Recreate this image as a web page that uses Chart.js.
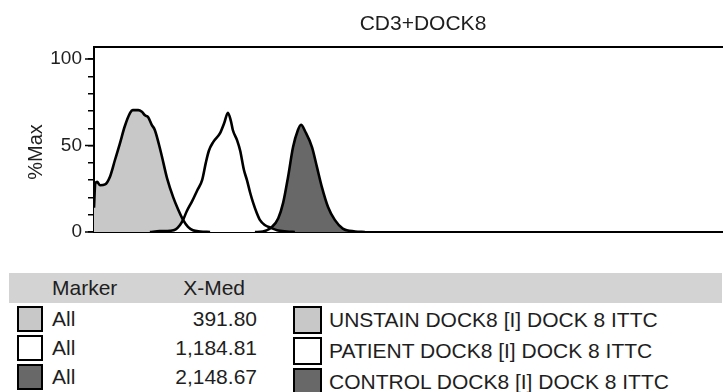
<!DOCTYPE html>
<html>
<head>
    <title>CD3+DOCK8</title>
    <script src="https://cdn.jsdelivr.net/npm/chart.js"></script>
    <style>
        body {
            font-family: "Liberation Sans", Arial, sans-serif;
            margin: 0;
            width: 723px;
            height: 392px;
            overflow: hidden;
            position: relative;
            background: #fff;
            color: #1e1e1e;
        }
        .abs { position: absolute; white-space: nowrap; }
        .txt { height: 30px; line-height: 30px; font-size: 21px; }
        #title { left: 423px; top: 8px; transform: translateX(-50%); }
        #ylabel { left: 35px; top: 152px; font-size: 20px; line-height: 20px;
                  transform: translate(-50%, -50%) rotate(-90deg); }
        #header { left: 9px; top: 273px; width: 713px; height: 30px; background: #d3d3d3; }
        .swatch { box-sizing: border-box; border: 2px solid #000; }
    </style>
</head>
<body>
    <canvas id="histChart" width="723" height="250" class="abs" style="left:0;top:0"></canvas>
    <div id="title" class="abs txt">CD3+DOCK8</div>
    <div id="ylabel" class="abs">%Max</div>
    <div id="header" class="abs"></div>
    <div class="abs txt" style="left:52px;top:273px">Marker</div>
    <div class="abs txt" style="left:145px;top:273px;width:100px;text-align:right">X-Med</div>
    <div id="table"></div>

    <script>
        // channel positions (0-1024) and %Max values
        const unstainX = [0, 2, 5, 10, 18, 26, 34, 42, 50, 59, 63, 72, 78, 83, 88, 94, 99, 109, 119, 129, 137, 145, 153, 161, 173, 189];
        const unstainY = [14, 28, 29, 27, 27.5, 32, 41.5, 51, 61, 69, 70.5, 70.5, 69.5, 67.5, 66.5, 62, 59, 46, 31, 20, 13, 7, 3, 1, 0.3, 0];
        const patientX = [91, 107, 124, 133, 140, 145, 151, 160, 168, 176, 182, 187, 194, 205, 212, 218, 223, 226, 233, 238, 244, 249, 254, 259, 265, 270, 278, 287, 298, 314, 327];
        const patientY = [0, 0.5, 0.7, 1.5, 4, 7, 12, 18, 24, 30, 40, 47, 52, 57, 63, 69, 64, 59, 53, 47, 36, 30, 23, 17, 11, 7, 4, 2.5, 1, 0.3, 0];
        const controlX = [262, 275, 290, 300, 308, 316, 324, 332, 337, 344, 355, 363, 371, 381, 392, 405, 425, 441];
        const controlY = [0, 0.3, 3, 8, 17, 32, 49, 59, 62, 58, 49, 37.5, 26, 14.5, 7, 2, 0.3, 0];

        const markerNames = ['All', 'All', 'All'];
        const xMedians = ['391.80', '1,184.81', '2,148.67'];
        const sampleNames = ['UNSTAIN DOCK8 [I] DOCK 8 ITTC', 'PATIENT DOCK8 [I] DOCK 8 ITTC', 'CONTROL DOCK8 [I] DOCK 8 ITTC'];
        const sampleFills = ['#c8c8c8', '#ffffff', '#686868'];
        const majorTicks = [0, 50, 100];

        const toPoints = (xs, ys) => xs.map((x, i) => ({ x: x, y: ys[i] }));

        // filled area only; outlines are separate datasets drawn above all fills
        function area(label, xs, ys, fill, order) {
            return {
                label: label,
                data: toPoints(xs, ys),
                borderWidth: 0,
                borderColor: 'rgba(0,0,0,0)',
                backgroundColor: fill,
                fill: 'origin',
                pointRadius: 0,
                tension: 0.3,
                cubicInterpolationMode: 'monotone',
                order: order
            };
        }
        function outline(label, xs, ys) {
            return {
                label: label,
                data: toPoints(xs, ys),
                borderColor: '#000',
                borderWidth: 2.6,
                fill: false,
                pointRadius: 0,
                tension: 0.3,
                cubicInterpolationMode: 'monotone',
                order: -1
            };
        }

        const frame = {
            id: 'frame',
            afterDraw(chart) {
                const { ctx, chartArea, scales } = chart;
                ctx.save();
                ctx.strokeStyle = '#000';
                ctx.lineWidth = 2;
                ctx.beginPath();
                ctx.moveTo(chartArea.left - 1, chartArea.top);
                ctx.lineTo(chartArea.right, chartArea.top);
                ctx.stroke();
                ctx.lineWidth = 1.5;
                ctx.beginPath();
                majorTicks.forEach(v => {
                    const y = scales.y.getPixelForValue(v);
                    ctx.moveTo(chartArea.left - 9, y);
                    ctx.lineTo(chartArea.left, y);
                });
                ctx.stroke();
                ctx.restore();
            }
        };

        new Chart(document.getElementById('histChart'), {
            type: 'line',
            data: {
                datasets: [
                    area(sampleNames[0], unstainX, unstainY, sampleFills[0], 3),
                    area(sampleNames[1], patientX, patientY, sampleFills[1], 1),
                    area(sampleNames[2], controlX, controlY, sampleFills[2], 2),
                    outline(sampleNames[0], unstainX, unstainY),
                    outline(sampleNames[1], patientX, patientY),
                    outline(sampleNames[2], controlX, controlY)
                ]
            },
            options: {
                responsive: false,
                animation: false,
                devicePixelRatio: 1,
                layout: { padding: { top: 47, right: 0, left: 0, bottom: 0 } },
                plugins: { legend: { display: false }, tooltip: { enabled: false } },
                scales: {
                    x: {
                        type: 'linear',
                        min: 0,
                        max: 1024,
                        ticks: { display: false },
                        grid: { display: false },
                        border: { display: true, color: '#000', width: 2 },
                        afterFit: s => { s.height = 18; }
                    },
                    y: {
                        min: 0,
                        max: 107,
                        ticks: {
                            stepSize: 10,
                            includeBounds: false,
                            autoSkip: false,
                            padding: 6,
                            color: '#1e1e1e',
                            font: { family: 'Liberation Sans', size: 19 },
                            callback: v => (v % 50 === 0 ? v : '')
                        },
                        grid: { drawOnChartArea: false, tickLength: 6, color: '#000', lineWidth: 1.5 },
                        border: { color: '#000', width: 2 },
                        afterFit: s => { s.width = 94; }
                    }
                }
            },
            plugins: [frame]
        });

        // stats table under the plot
        const table = document.getElementById('table');
        function addDiv(style, text, cls) {
            const d = document.createElement('div');
            d.className = 'abs ' + (cls || '');
            d.style.cssText = style;
            if (text) d.textContent = text;
            table.appendChild(d);
        }
        markerNames.forEach((m, i) => {
            const cl = 318.5 + i * 29.3;
            const cr = 319.5 + i * 31;
            addDiv(`left:17px;top:${cl - 13}px;width:26px;height:26px;background:${sampleFills[i]}`, '', 'swatch');
            addDiv(`left:52px;top:${cl - 15}px`, m, 'txt');
            addDiv(`left:157px;top:${cl - 15}px;width:100px;text-align:right`, xMedians[i], 'txt');
            addDiv(`left:293px;top:${cr - 14}px;width:29px;height:28px;background:${sampleFills[i]}`, '', 'swatch');
            addDiv(`left:329px;top:${cr - 15}px`, sampleNames[i], 'txt');
        });
    </script>
</body>
</html>
